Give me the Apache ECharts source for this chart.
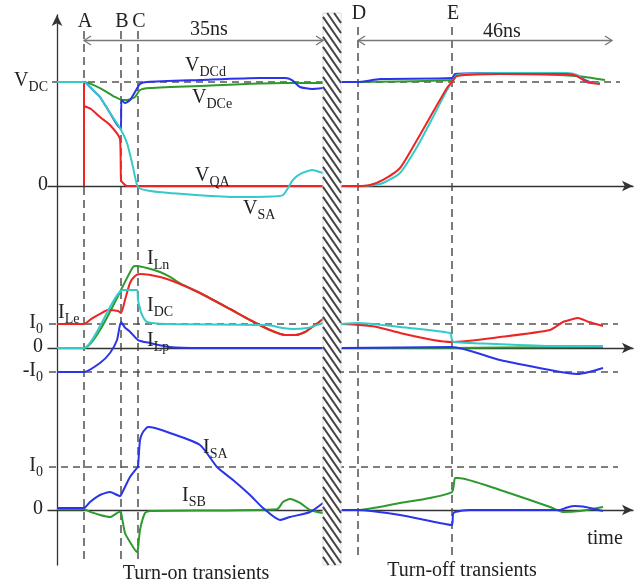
<!DOCTYPE html>
<html><head><meta charset="utf-8">
<script src="https://cdn.jsdelivr.net/npm/echarts@6/dist/echarts.min.js"></script>
<style>html,body{margin:0;padding:0;background:#fff}#c{width:637px;height:584px}</style>
</head><body><div id="c"></div>
<script>
// ---------- time axis (arbitrary units) ----------
const xMin = -2.25, xMax = 144;
const eventNames = ['A', 'B', 'C', 'D', 'E'];
const eventTimes = [6.75, 16, 20.25, 75.25, 98.75];
const breakStart = 66.5, breakEnd = 71;
const spanStarts = [6.75, 75.25];
const spanEnds = [66.5, 138.75];
const spanLabelAt = [38, 111.25];
const spanLabels = ['35ns', '46ns'];

// ---------- panel 1: voltages (units of V_DC) ----------
const p1TickValues = [0, 1];
const p1TickLabels = [['0', ''], ['V', 'DC']];
const p1Levels = [1];
const vQA_on = [[0,1],[6.75,1],[6.75,0],[6.75,0.769],[8.5,0.74],[10.75,0.663],[13.25,0.587],[15.75,0.452],[16,0.058],[16.5,0.029],[17.5,0],[66.5,0]];
const vQA_off = [[71.25,0],[75.25,0],[78.25,0.01],[81.5,0.058],[85.75,0.173],[90,0.442],[94,0.712],[97.5,0.942],[98.75,1.0],[100,1.058],[110.75,1.077],[127.5,1.077],[130,1.058],[132.5,1.0],[135.75,0.981]];
const vSA_on = [[0,1],[6.75,1],[8.25,0.952],[9.5,0.904],[10.75,0.856],[13.25,0.702],[15.75,0.558],[17.5,0.413],[19,0.183],[20.25,-0.01],[23.25,-0.048],[31.5,-0.077],[44,-0.106],[54,-0.1],[56.5,-0.087],[59,0.058],[60.75,0.115],[63.75,0.154],[66.5,0.125]];
const vSA_off = [[71.25,0],[75.25,0],[78.25,0.005],[81.5,0.029],[85.75,0.125],[90,0.375],[94,0.663],[97.5,0.923],[98.75,1.0],[100,1.067],[110.75,1.087],[127.5,1.087],[130,1.067],[132.5,1.0],[135.75,0.99]];
const vDCd_on = [[0,1],[6.75,1],[8.25,0.952],[9.5,0.904],[10.75,0.856],[13.25,0.702],[15.75,0.558],[16,0.558],[16.1,0.827],[17,0.798],[18.25,0.827],[19.5,0.904],[20.75,0.981],[22.5,1.0],[35.75,1.019],[50.75,1.038],[57,1.038],[58.75,1.019],[60.75,0.952],[63.75,0.933],[66.5,0.942]];
const vDCd_off = [[71.25,1.0],[75.25,1.0],[80.75,1.029],[98.75,1.038],[99.5,1.077],[110.75,1.087],[127.5,1.077],[130,1.058],[133.25,1.0],[135.75,0.99]];
const vDCe_on = [[0,1],[6.75,1],[10.75,0.942],[14.5,0.856],[16.25,0.827],[17.5,0.827],[19.5,0.856],[20.75,0.923],[23.25,0.942],[35.75,0.962],[56.5,0.99],[66.5,0.99]];
const vDCe_off = [[71.25,1.0],[98.75,1.019],[99.5,1.067],[110.75,1.077],[130,1.058],[137,1.019]];

// ---------- panel 2: inductor / DC currents (units of I0) ----------
const p2TickValues = [1, 0, -1];
const p2TickLabels = [['I', '0'], ['0', ''], ['-I', '0']];
const p2Levels = [1, -1];
const iLn_on = [[0,0],[6.75,0],[19,3.375],[19.75,3.417],[22.5,3.333],[25.75,3.167],[28.25,2.96],[31,2.667],[35.75,2.292],[43.25,1.625],[48.25,1.167],[53.25,0.75],[57,0.542],[59.5,0.542],[62,0.667],[64.5,0.958],[66.5,1.208]];
const iLn_off = [[71.25,0],[98.75,0],[110.75,0.02],[136.5,0.04]];
const iLe_on = [[0,1],[6.75,1],[8.5,1.2],[10.75,1.417],[12.75,1.583],[15.25,1.542],[16,1.458],[17,2.0],[18.25,2.708],[19.5,3.0],[20.75,3.083],[25.75,2.958],[30.75,2.667],[35.75,2.292],[43.25,1.625],[48.25,1.167],[53.25,0.75],[57,0.542],[59.5,0.542],[62,0.667],[64.5,0.958],[66.5,1.208]];
const iLe_off = [[71.25,1.0],[75.25,0.958],[80,0.875],[85.75,0.625],[94,0.333],[98.75,0.25],[110.75,0.458],[123.25,0.75],[126.5,1.083],[129,1.208],[130.25,1.25],[133,1.083],[136.5,0.917]];
const iDC_on = [[0,0],[6.75,0],[16.5,2.417],[20,2.417],[20.25,2.0],[21.25,1.375],[22.5,1.083],[27.5,1.0],[52.5,0.958],[56.5,0.833],[59,0.792],[62.5,0.833],[65,0.958],[66.5,1.042]];
const iDC_off = [[71.25,1.0],[75.25,1.042],[85.75,0.875],[98.25,0.625],[98.75,0.333],[99.25,0.25],[103.25,0.208],[123.25,0.083],[136.5,0.083]];
const iLp_on = [[0,-1],[6.75,-1],[10.75,-0.625],[13.25,-0.208],[15,0.333],[16,1.083],[17,0.85],[18.25,0.68],[20.25,0.333],[23.25,0.208],[28.25,0.042],[35.75,0],[66.5,0]];
const iLp_off = [[71.25,0],[98.75,0.042],[110.75,-0.5],[123.25,-0.917],[128,-1.05],[130,-1.083],[133,-1.0],[136.5,-0.833]];

// ---------- panel 3: switch currents (units of I0) ----------
const p3TickValues = [1, 0];
const p3TickLabels = [['I', '0'], ['0', '']];
const p3Levels = [1];
const iSA_on = [[0,0.047],[6.75,0.047],[8.25,0.186],[10.75,0.349],[13.25,0.419],[15.75,0.326],[16,0.349],[17,0.535],[18.25,0.767],[20,0.977],[20.25,1.0],[20.75,1.628],[21.5,1.814],[22.75,1.93],[24.5,1.907],[28.25,1.791],[35.75,1.512],[40,1.0],[44,0.698],[48.25,0.349],[51.5,0.047],[55.75,-0.233],[58.25,-0.163],[63.25,-0.047],[66.5,0.163]];
const iSA_off = [[71.25,0],[75.25,0],[85.75,-0.116],[93.25,-0.256],[98.75,-0.349],[99,-0.1],[99.5,-0.047],[103.25,0],[125.75,0],[127.5,0.06],[129.5,0.093],[131.5,0.08],[133.25,0.047],[136.5,-0.023]];
const iSB_on = [[0,0.02],[6.75,0.02],[8.5,-0.05],[10.75,-0.116],[13.25,-0.163],[15.75,-0.04],[16,-0.05],[17,-0.535],[18.25,-0.744],[20,-0.977],[20.25,-0.9],[20.75,-0.465],[22,-0.07],[23.25,-0.023],[55,0.02],[56.5,0.186],[58.25,0.256],[60.75,0.163],[63.25,0],[66.5,-0.07]];
const iSB_off = [[71.25,0],[75.25,0],[85.75,0.163],[93.25,0.279],[98.75,0.419],[99.5,0.744],[100.25,0.744],[110.75,0.465],[123.25,0.07],[126.5,-0.047],[130.75,-0.023],[136.5,0.07]];

// ---------- text annotations ----------
const curveLabels = [['V','DCd'],['V','DCe'],['V','QA'],['V','SA'],['I','Ln'],['I','DC'],['I','Le'],['I','Lp'],['I','SA'],['I','SB']];
const curveLabelPos = [[185,56],[192,88],[195,166],[243,199],[147,249],[147,296],[58,303],[147,331],[203,438],[182,486]];

// ---------- styling ----------
const FONT = '"Liberation Serif","Times New Roman",serif';
const TXT = '#222';
const RED = '#ee2424', CYAN = '#35caca', BLUE = '#2a34ea', GREEN = '#2c9a2c';
const richStyle = {
  m: {fontSize: 20, fontFamily: FONT, color: TXT, fill: TXT, lineHeight: 22, verticalAlign: 'top'},
  s: {fontSize: 14, fontFamily: FONT, color: TXT, fill: TXT, lineHeight: 14, padding: [9, 0, 0, 0], verticalAlign: 'top'}
};
const richText = (pair) => pair[1] ? '{m|' + pair[0] + '}{s|' + pair[1] + '}' : '{m|' + pair[0] + '}';

const chart = echarts.init(document.getElementById('c'), null, {renderer: 'canvas'});

const grids = [
  {left: 48, right: 4, top: 14.4, height: 223.6, outerBoundsMode: 'none'},
  {left: 48, right: 4, top: 252, height: 156, outerBoundsMode: 'none'},
  {left: 48, right: 4, top: 402.5, height: 172, outerBoundsMode: 'none'},
  {left: 48, right: 4, top: 15, height: 550, outerBoundsMode: 'none'}
];
const yRanges = [[-0.5, 1.65], [-2.5, 4], [-1.5, 2.5], [0, 1]];
const tickVals = [p1TickValues, p2TickValues, p3TickValues];
const tickLabs = [p1TickLabels, p2TickLabels, p3TickLabels];
const labelMargins = [0, 5, 5];

function xAx(i, show) {
  return {type: 'value', gridIndex: i, min: xMin, max: xMax,
    axisLabel: {show: false}, axisTick: {show: false}, splitLine: {show: false},
    axisLine: {show: show, onZero: true, symbol: ['none', 'arrow'], symbolSize: [8, 11],
      lineStyle: {color: '#333', width: 1.3}}};
}
function yAx(i) {
  return {type: 'value', gridIndex: i, min: yRanges[i][0], max: yRanges[i][1],
    axisLine: {show: false, onZero: false}, axisTick: {show: false}, splitLine: {show: false},
    axisLabel: {show: true, customValues: tickVals[i], margin: labelMargins[i],
      formatter: (v) => {
        const k = tickVals[i].findIndex(t => Math.abs(t - v) < 1e-9);
        return k < 0 ? '' : richText(tickLabs[i][k]);
      },
      rich: richStyle}};
}

function curve(data, color, g, z) {
  return {type: 'line', data: data, xAxisIndex: g, yAxisIndex: g, showSymbol: false, symbol: 'none',
    smooth: 0.2, silent: true, z: z,
    lineStyle: {color: color, width: 2}, itemStyle: {color: color}};
}

function levelSeries(levels, g, xs, xe) {
  return {type: 'custom', xAxisIndex: g, yAxisIndex: g, silent: true, z: 1,
    data: levels.map(l => [xs, l, xe]),
    renderItem: (p, api) => {
      const a = api.coord([api.value(0), api.value(1)]);
      const b = api.coord([api.value(2), api.value(1)]);
      return {type: 'line', shape: {x1: a[0], y1: a[1], x2: b[0], y2: b[1]},
        style: {stroke: '#555', lineWidth: 1.5, lineDash: [7, 5]}};
    }};
}

const series = [
  levelSeries(p1Levels, 0, -1.25, 140.75),
  levelSeries(p2Levels, 1, -2, 140.25),
  levelSeries(p3Levels, 2, -2, 140.25),
  // panel 1
  curve(vQA_on, RED, 0, 3), curve(vQA_off, RED, 0, 4),
  curve(vDCe_on, GREEN, 0, 3), curve(vDCe_off, GREEN, 0, 3),
  curve(vDCd_on, BLUE, 0, 3), curve(vDCd_off, BLUE, 0, 3),
  curve(vSA_on, CYAN, 0, 4), curve(vSA_off, CYAN, 0, 3),
  // panel 2
  curve(iLn_on, GREEN, 1, 3), curve(iLn_off, GREEN, 1, 3),
  curve(iLe_on, RED, 1, 3), curve(iLe_off, RED, 1, 3),
  curve(iDC_on, CYAN, 1, 3), curve(iDC_off, CYAN, 1, 3),
  curve(iLp_on, BLUE, 1, 3), curve(iLp_off, BLUE, 1, 3),
  // panel 3
  curve(iSB_on, GREEN, 2, 3), curve(iSB_off, GREEN, 2, 3),
  curve(iSA_on, BLUE, 2, 3), curve(iSA_off, BLUE, 2, 3),
  // event markers (vertical dashed lines + letters)
  {type: 'custom', xAxisIndex: 3, yAxisIndex: 3, silent: true, z: 1,
    data: eventTimes.map(t => [t, 0]),
    renderItem: (p, api) => {
      const cs = p.coordSys;
      const x = api.coord([api.value(0), 0])[0];
      const late = api.value(0) > breakEnd;
      const top = cs.y + (late ? 12 : 16);
      const bot = cs.y + cs.height - 5;
      return {type: 'group', children: [
        {type: 'line', shape: {x1: x, y1: top, x2: x, y2: bot},
          style: {stroke: '#444', lineWidth: 1.4, lineDash: [8, 5]}},
        {type: 'text', x: x + 1, y: late ? cs.y - 1 : cs.y + 7,
          style: {text: eventNames[p.dataIndex], fontSize: 20, fontFamily: FONT, fill: TXT,
            align: 'center', verticalAlign: 'middle'}}
      ]};
    }},
  // hatched time break
  {type: 'custom', xAxisIndex: 3, yAxisIndex: 3, silent: true, z: 10,
    data: [[breakStart, 0, breakEnd]],
    renderItem: (p, api) => {
      const cs = p.coordSys;
      const x0 = api.coord([api.value(0), 0])[0], x1 = api.coord([api.value(2), 0])[0];
      const top = cs.y - 2, bot = cs.y + cs.height;
      const w = x1 - x0, slope = 1.45, sp = 10;
      const ch = [{type: 'rect', shape: {x: x0, y: top, width: w, height: bot - top},
        style: {fill: '#fff', stroke: '#dcdcdc', lineWidth: 1}}];
      for (let ys = top - slope * w; ys < bot; ys += sp) {
        let xa = x0, ya = ys, xb = x1, yb = ys + slope * w;
        if (ya < top) { xa = x0 + (top - ys) / slope; ya = top; }
        if (yb > bot) { xb = x0 + (bot - ys) / slope; yb = bot; }
        if (xb <= xa) continue;
        ch.push({type: 'line', shape: {x1: xa, y1: ya, x2: xb, y2: yb},
          style: {stroke: '#444', lineWidth: 2}});
      }
      return {type: 'group', children: ch};
    }},
  // duration arrows
  {type: 'custom', xAxisIndex: 3, yAxisIndex: 3, silent: true, z: 11,
    data: spanStarts.map((s, i) => [s, 0, spanEnds[i], spanLabelAt[i]]),
    renderItem: (p, api) => {
      const cs = p.coordSys;
      const y = cs.y + 25.5;
      const a = api.coord([api.value(0), 0])[0], b = api.coord([api.value(2), 0])[0];
      const m = api.coord([api.value(3), 0])[0];
      const st = {stroke: '#777', lineWidth: 1.3, fill: 'none'};
      return {type: 'group', children: [
        {type: 'line', shape: {x1: a, y1: y, x2: b, y2: y}, style: st},
        {type: 'polyline', shape: {points: [[a + 7, y - 4.5], [a, y], [a + 7, y + 4.5]]}, style: st},
        {type: 'polyline', shape: {points: [[b - 7, y - 4.5], [b, y], [b - 7, y + 4.5]]}, style: st},
        {type: 'text', x: m, y: y - 11 + p.dataIndex * 2,
          style: {text: spanLabels[p.dataIndex], fontSize: 20, fontFamily: FONT, fill: TXT,
            align: 'center', verticalAlign: 'middle'}}
      ]};
    }}
];

const graphics = curveLabels.map((lab, i) => ({
  type: 'text', x: curveLabelPos[i][0], y: curveLabelPos[i][1], silent: true, z: 20,
  style: {text: richText(lab), rich: richStyle, fill: TXT, align: 'left', verticalAlign: 'top'}
}));
graphics.push(
  {type: 'text', x: 196, y: 574, silent: true, z: 20,
    style: {text: 'Turn-on transients', fontSize: 20, fontFamily: FONT, fill: TXT, align: 'center', verticalAlign: 'middle'}},
  {type: 'text', x: 462, y: 571, silent: true, z: 20,
    style: {text: 'Turn-off transients', fontSize: 20, fontFamily: FONT, fill: TXT, align: 'center', verticalAlign: 'middle'}},
  {type: 'text', x: 605, y: 539, silent: true, z: 20,
    style: {text: 'time', fontSize: 20, fontFamily: FONT, fill: TXT, align: 'center', verticalAlign: 'middle'}}
);

chart.setOption({
  animation: false,
  backgroundColor: '#fff',
  grid: grids,
  xAxis: [xAx(0, true), xAx(1, true), xAx(2, true), xAx(3, false)],
  yAxis: [yAx(0), yAx(1), yAx(2),
    {type: 'value', gridIndex: 3, min: 0, max: 1,
      axisLine: {show: true, onZero: true, symbol: ['none', 'arrow'], symbolSize: [8, 11],
        lineStyle: {color: '#333', width: 1.3}},
      axisLabel: {show: false}, axisTick: {show: false}, splitLine: {show: false}}],
  series: series,
  graphic: graphics
});
</script></body></html>
